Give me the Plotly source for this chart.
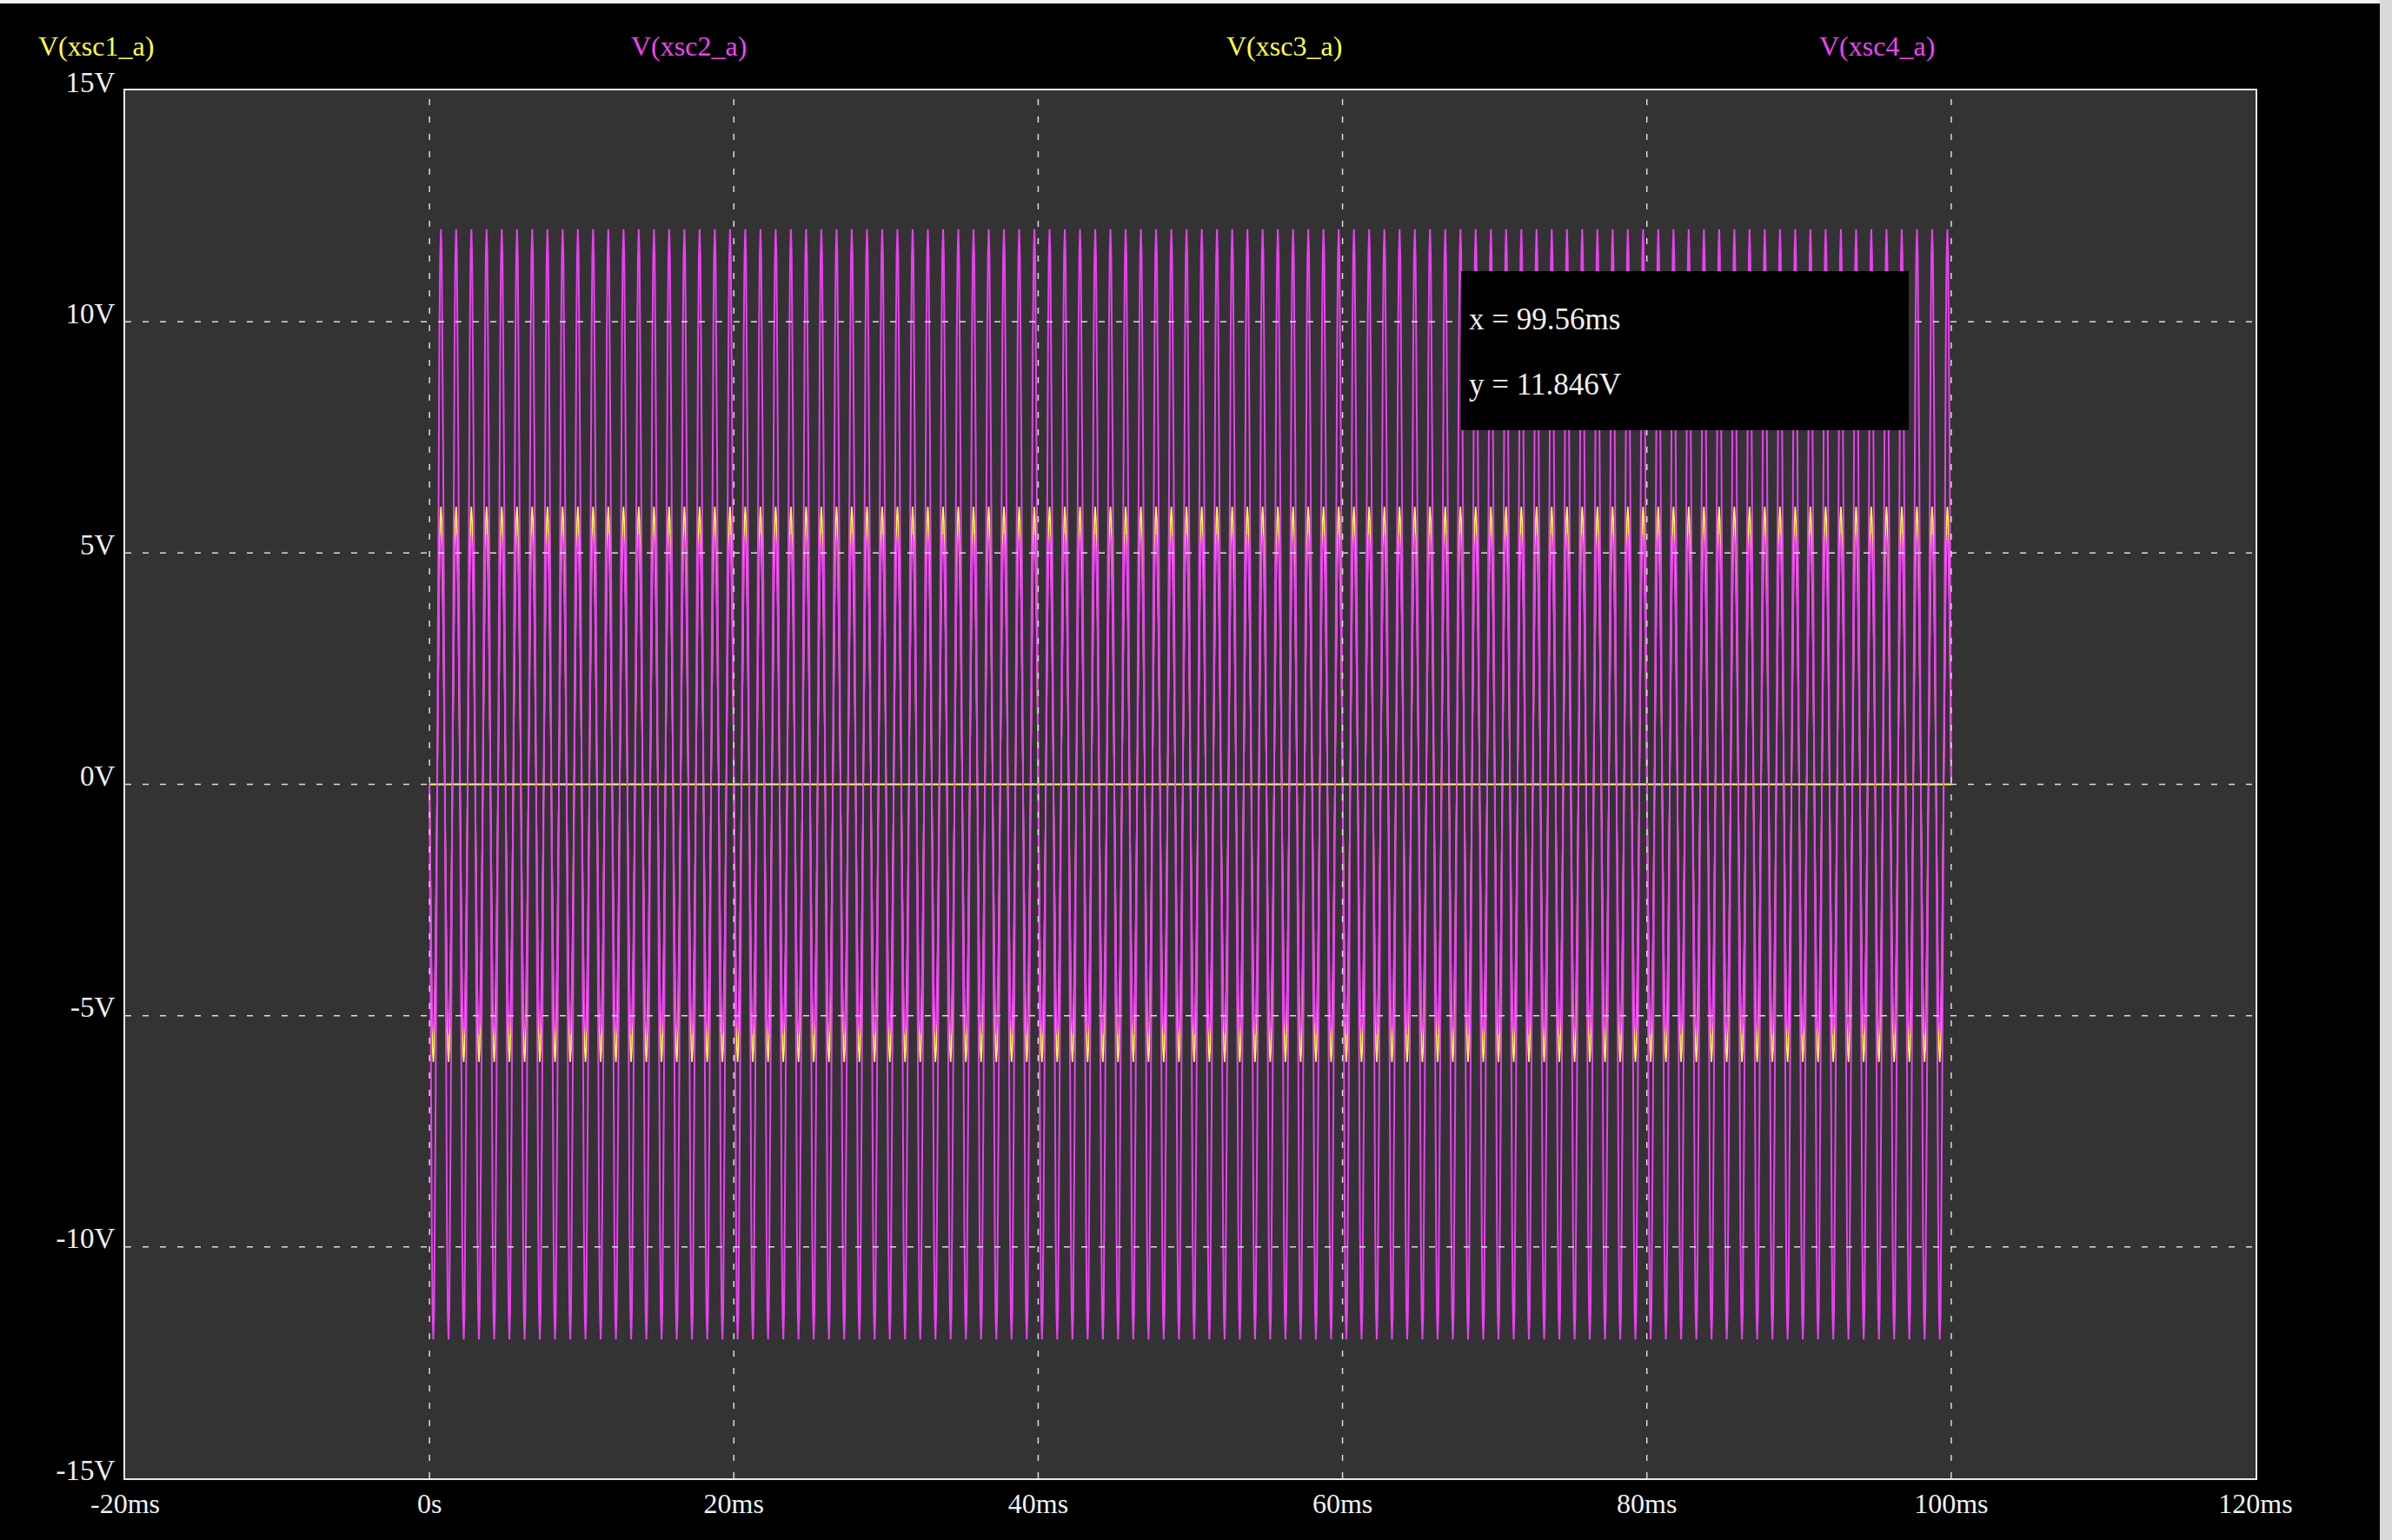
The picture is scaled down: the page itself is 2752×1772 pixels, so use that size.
import numpy as np
import plotly.graph_objects as go

# ---- data ----
series_names = ["V(xsc1_a)", "V(xsc2_a)", "V(xsc3_a)", "V(xsc4_a)"]
series_colors = ["#ffff40", "#ea3ff2", "#ffff40", "#ea3ff2"]
label_colors = ["#ffff40", "#ee44ee", "#ffff40", "#ee44ee"]

# one 1 ms period (1 kHz), sampled every 0.05 ms, values in volts
cycle_xsc1 = [0, -1.85, -3.53, -4.85, -5.71, -6.0, -5.71, -4.85, -3.53, -1.85,
              0, 1.85, 3.53, 4.85, 5.71, 6.0, 5.71, 4.85, 3.53, 1.85]
cycle_xsc2 = [0, -3.71, -7.05, -9.71, -11.41, -12.0, -11.41, -9.71, -7.05, -3.71,
              0, 3.71, 7.05, 9.71, 11.41, 12.0, 11.41, 9.71, 7.05, 3.71]
cycle_xsc4 = [0, -1.67, -3.17, -4.37, -5.14, -5.4, -5.14, -4.37, -3.17, -1.67,
              0, 1.67, 3.17, 4.37, 5.14, 5.4, 5.14, 4.37, 3.17, 1.67]
xsc3_t = [0, 100]
xsc3_v = [0, 0]
n_cycles = 100
sample_step_ms = 0.05

x_tickvals = [-20, 0, 20, 40, 60, 80, 100, 120]
x_ticktext = ["-20ms", "0s", "20ms", "40ms", "60ms", "80ms", "100ms", "120ms"]
y_tickvals = [-15, -10, -5, 0, 5, 10, 15]
y_ticktext = ["-15V", "-10V", "-5V", "0V", "5V", "10V", "15V"]

cursor_text = ["x = 99.56ms", "y = 11.846V"]

# ---- build traces ----
def periodic(cycle):
    v = np.concatenate([np.tile(cycle, n_cycles), [cycle[0]]])
    t = np.arange(len(v)) * sample_step_ms
    return t, v

t1, v1 = periodic(cycle_xsc1)
t2, v2 = periodic(cycle_xsc2)
t4, v4 = periodic(cycle_xsc4)

FONT = "Liberation Serif"
fig = go.Figure()
fig.add_trace(go.Scatter(x=t1, y=v1, mode="lines", name=series_names[0],
                         line=dict(color=series_colors[0], width=1.6)))
fig.add_trace(go.Scatter(x=t2, y=v2, mode="lines", name=series_names[1],
                         line=dict(color=series_colors[1], width=2)))
fig.add_trace(go.Scatter(x=xsc3_t, y=xsc3_v, mode="lines", name=series_names[2],
                         line=dict(color=series_colors[2], width=2)))
fig.add_trace(go.Scatter(x=t4, y=v4, mode="lines", name=series_names[3],
                         line=dict(color=series_colors[3], width=1.6)))

W, H = 2752, 1772
L, R, T, B = 144, 157, 104, 71
pw, ph = W - L - R, H - T - B

def px_to_paper_x(px):
    return (px - L) / pw

def px_to_paper_y(py):
    return (H - B - py) / ph

shapes = []
grid = dict(color="#dcdcdc", width=1.5, dash="7px,13px")
for xv in x_tickvals[1:-1]:
    shapes.append(dict(type="line", xref="x", yref="paper", x0=xv, x1=xv, y0=0, y1=1,
                       line=grid, layer="above"))
for yv in y_tickvals[1:-1]:
    shapes.append(dict(type="line", xref="paper", yref="y", x0=0, x1=1, y0=yv, y1=yv,
                       line=grid, layer="above"))
# cursor readout box
shapes.append(dict(type="rect", xref="paper", yref="paper",
                   x0=px_to_paper_x(1681), x1=px_to_paper_x(2196),
                   y0=px_to_paper_y(495), y1=px_to_paper_y(312),
                   fillcolor="black", line=dict(width=0), layer="above"))
# window edges
shapes.append(dict(type="rect", xref="paper", yref="paper",
                   x0=px_to_paper_x(0), x1=px_to_paper_x(W),
                   y0=px_to_paper_y(4), y1=px_to_paper_y(0),
                   fillcolor="#f2f2f2", line=dict(width=0), layer="above"))
shapes.append(dict(type="rect", xref="paper", yref="paper",
                   x0=px_to_paper_x(2738), x1=px_to_paper_x(W),
                   y0=px_to_paper_y(H), y1=px_to_paper_y(0),
                   fillcolor="#d9d9d9", line=dict(width=0), layer="above"))

annotations = []
label_px = [110, 793, 1477, 2159]
for name, col, px in zip(series_names, label_colors, label_px):
    annotations.append(dict(text=name, xref="paper", yref="paper",
                            x=px_to_paper_x(px), y=px_to_paper_y(53),
                            xanchor="center", yanchor="middle", showarrow=False,
                            font=dict(family=FONT, size=32, color=col)))
for txt, py in zip(cursor_text, [367, 442]):
    annotations.append(dict(text=txt, xref="paper", yref="paper",
                            x=px_to_paper_x(1688), y=px_to_paper_y(py),
                            xanchor="left", yanchor="middle", showarrow=False,
                            font=dict(family=FONT, size=35, color="#f0f0f0")))

fig.update_layout(
    width=W, height=H,
    margin=dict(l=L, r=R, t=T, b=B, pad=0),
    paper_bgcolor="black", plot_bgcolor="#333333",
    showlegend=False,
    shapes=shapes, annotations=annotations,
    font=dict(family=FONT, size=32, color="#f0f0f0"),
)
fig.update_xaxes(range=[-20, 120], tickvals=x_tickvals, ticktext=x_ticktext,
                 showgrid=False, zeroline=False, showline=True, mirror=True,
                 linecolor="#e8e8e8", linewidth=2, ticks="",
                 ticklabelstandoff=0,
                 tickfont=dict(family=FONT, size=32, color="#f0f0f0"))
fig.update_yaxes(range=[-15, 15], tickvals=y_tickvals, ticktext=y_ticktext,
                 showgrid=False, zeroline=False, showline=True, mirror=True,
                 linecolor="#e8e8e8", linewidth=2, ticks="",
                 ticklabelstandoff=3, ticklabelshift=-10,
                 tickfont=dict(family=FONT, size=33, color="#f0f0f0"))

fig.write_html("out.html")
